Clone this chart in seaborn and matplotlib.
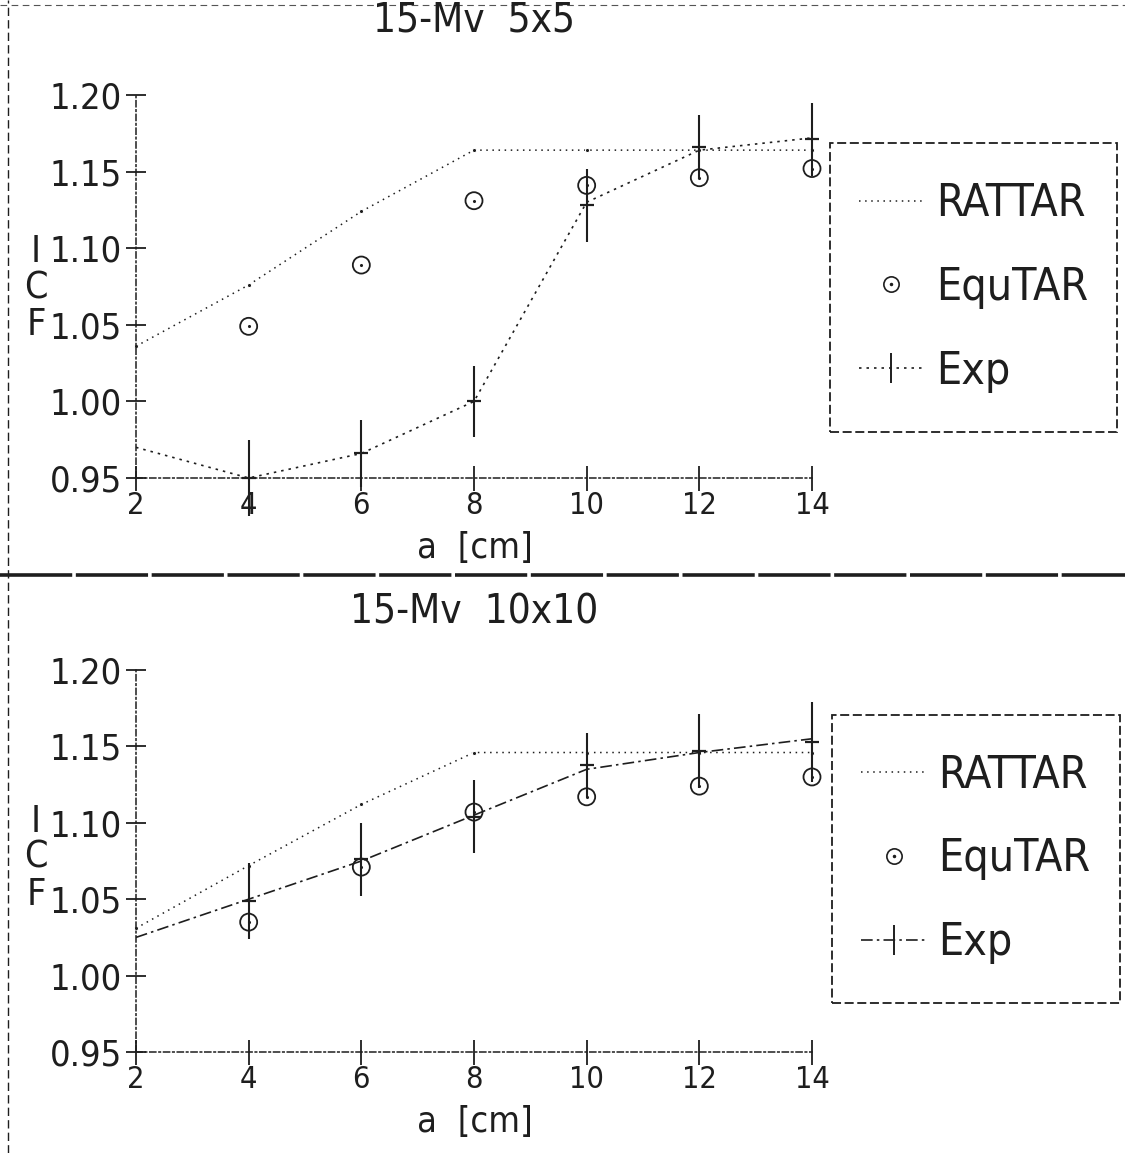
import matplotlib
matplotlib.use('Agg')
import matplotlib.pyplot as plt
import seaborn as sns
import pandas as pd
from matplotlib.lines import Line2D
from matplotlib.patches import Rectangle

# ---------------- data ----------------
a_cm = [2, 4, 6, 8, 10, 12, 14]
a_pts = [4, 6, 8, 10, 12, 14]
x_ticks = [2, 4, 6, 8, 10, 12, 14]
y_ticks = [0.95, 1.00, 1.05, 1.10, 1.15, 1.20]
y_tick_labels = ["0.95", "1.00", "1.05", "1.10", "1.15", "1.20"]

title_top = "15-Mv  5x5"
rattar_top = [1.036, 1.076, 1.124, 1.164, 1.164, 1.164, 1.164]
exp_line_top = [0.970, 0.950, 0.966, 1.000, 1.130, 1.164, 1.172]
equtar_top = [1.049, 1.089, 1.131, 1.141, 1.146, 1.152]
exp_top = [0.950, 0.966, 1.000, 1.128, 1.166, 1.171]
exp_err_top = [0.025, 0.022, 0.023, 0.024, 0.021, 0.024]

title_bot = "15-Mv  10x10"
rattar_bot = [1.031, 1.072, 1.112, 1.146, 1.146, 1.146, 1.146]
exp_line_bot = [1.025, 1.050, 1.075, 1.105, 1.135, 1.146, 1.155]
equtar_bot = [1.035, 1.071, 1.107, 1.117, 1.124, 1.130]
exp_bot = [1.049, 1.076, 1.104, 1.138, 1.147, 1.153]
exp_err_bot = [0.025, 0.024, 0.024, 0.021, 0.024, 0.026]

legend_labels = ["RATTAR", "EquTAR", "Exp"]

# ---------------- style ----------------
sns.set_theme(style="white")
plt.rcParams['font.family'] = ['DejaVu Sans']
plt.rcParams['font.stretch'] = 'condensed'
INK = "#1e1e1e"

W, H = 1125, 1153
fig = plt.figure(figsize=(11.25, 11.53), dpi=100)


def fx(px):
    return px / W


def fy(py):
    return 1 - py / H


panels = [
    dict(title=title_top, rattar=rattar_top, expl=exp_line_top, equ=equtar_top,
         exp=exp_top, err=exp_err_top, ytop=95, ybot=478, title_y=20, xlabel_y=548,
         icf_y=[252, 288, 325], leg=(830, 143, 1117, 432), exp_ls=(0, (1.5, 3))),
    dict(title=title_bot, rattar=rattar_bot, expl=exp_line_bot, equ=equtar_bot,
         exp=exp_bot, err=exp_err_bot, ytop=670, ybot=1052, title_y=612, xlabel_y=1122,
         icf_y=[822, 858, 895], leg=(832, 715, 1120, 1003), exp_ls=(0, (7, 2.5, 1.5, 2.5))),
]

for p in panels:
    ax = fig.add_axes([fx(136), fy(p['ybot']), fx(812) - fx(136), fy(p['ytop']) - fy(p['ybot'])])
    ax.set_facecolor('white')
    df = pd.DataFrame({'a': a_cm, 'RATTAR': p['rattar'], 'Exp': p['expl']})
    dp = pd.DataFrame({'a': a_pts, 'EquTAR': p['equ'], 'Exp': p['exp'], 'err': p['err']})

    sns.lineplot(data=df, x='a', y='RATTAR', ax=ax, color=INK, linewidth=1.1,
                 linestyle=(0, (1, 3)), marker='.', markersize=6, clip_on=False)
    sns.lineplot(data=df, x='a', y='Exp', ax=ax, color=INK, linewidth=1.2,
                 linestyle=p['exp_ls'], clip_on=False)
    sns.scatterplot(data=dp, x='a', y='EquTAR', ax=ax, marker='o', s=150,
                    facecolor='none', edgecolor=INK, linewidth=1.3, zorder=4, clip_on=False)
    sns.scatterplot(data=dp, x='a', y='EquTAR', ax=ax, marker='o', s=5,
                    color=INK, linewidth=0, zorder=4, clip_on=False)
    ax.errorbar(dp['a'], dp['Exp'], yerr=dp['err'], fmt='none', ecolor=INK,
                elinewidth=1.5, capsize=0, zorder=5, clip_on=False)
    ax.plot(dp['a'], dp['Exp'], ls='none', marker='_', markersize=10,
            markeredgewidth=1.6, color=INK, zorder=5, clip_on=False)

    ax.set_xlim(2, 14)
    ax.set_ylim(0.95, 1.20)
    ax.set_xticks(x_ticks)
    ax.set_xticklabels([str(v) for v in x_ticks])
    ax.set_yticks(y_ticks)
    ax.set_yticklabels(y_tick_labels)
    ax.set_xlabel('')
    ax.set_ylabel('')
    for s in ['top', 'right']:
        ax.spines[s].set_visible(False)
    for s in ['left', 'bottom']:
        ax.spines[s].set_color(INK)
        ax.spines[s].set_linewidth(1.1)
        ax.spines[s].set_linestyle((0, (4, 2, 1, 2)))
    ax.tick_params(axis='y', direction='inout', length=14, width=1.3, colors=INK,
                   labelsize=26, pad=3, left=True)
    ax.tick_params(axis='x', direction='inout', length=18, width=1.3, colors=INK,
                   labelsize=22, pad=0, bottom=True)

    fig.text(fx(474), fy(p['title_y']), p['title'], ha='center', va='center',
             fontsize=29, color=INK)
    fig.text(fx(475), fy(p['xlabel_y']), 'a  [cm]', ha='center', va='center',
             fontsize=26, color=INK)
    for letter, yy in zip("ICF", p['icf_y']):
        fig.text(fx(36), fy(yy), letter, ha='center', va='center', fontsize=27, color=INK)

    x0, y0, x1, y1 = p['leg']
    fig.add_artist(Rectangle((fx(x0), fy(y1)), fx(x1) - fx(x0), fy(y0) - fy(y1),
                             transform=fig.transFigure, fill=False, edgecolor=INK,
                             linewidth=1.3, linestyle=(0, (5, 2))))
    h_r = Line2D([], [], color=INK, lw=1.1, ls=(0, (1, 3)))
    h_e = (Line2D([], [], ls='none', marker='o', markersize=11, markerfacecolor='none',
                  markeredgecolor=INK, markeredgewidth=1.2),
           Line2D([], [], ls='none', marker='.', markersize=3, color=INK))
    h_x = (Line2D([], [], color=INK, lw=1.2, ls=p['exp_ls']),
           Line2D([], [], ls='none', marker='|', markersize=22, markeredgewidth=1.4, color=INK))
    fig.legend([h_r, h_e, h_x], legend_labels, loc='center',
               bbox_to_anchor=(fx(x0), fy(y1), fx(x1) - fx(x0), fy(y0) - fy(y1)),
               bbox_transform=fig.transFigure, frameon=False, fontsize=32,
               labelspacing=0.92, handlelength=1.46, handletextpad=0.27, labelcolor=INK)

# scan frame lines
fig.add_artist(Line2D([fx(8), fx(8)], [0, 1], transform=fig.transFigure,
                      color=INK, lw=1.0, ls=(0, (6, 3))))
fig.add_artist(Line2D([0, 1], [fy(5), fy(5)], transform=fig.transFigure,
                      color='#555555', lw=0.8, ls=(0, (6, 4))))
fig.add_artist(Line2D([0, 1], [fy(575), fy(575)], transform=fig.transFigure,
                      color=INK, lw=2.6, ls=(0, (20, 1))))

fig.savefig('out.png', dpi=100, facecolor='white')
